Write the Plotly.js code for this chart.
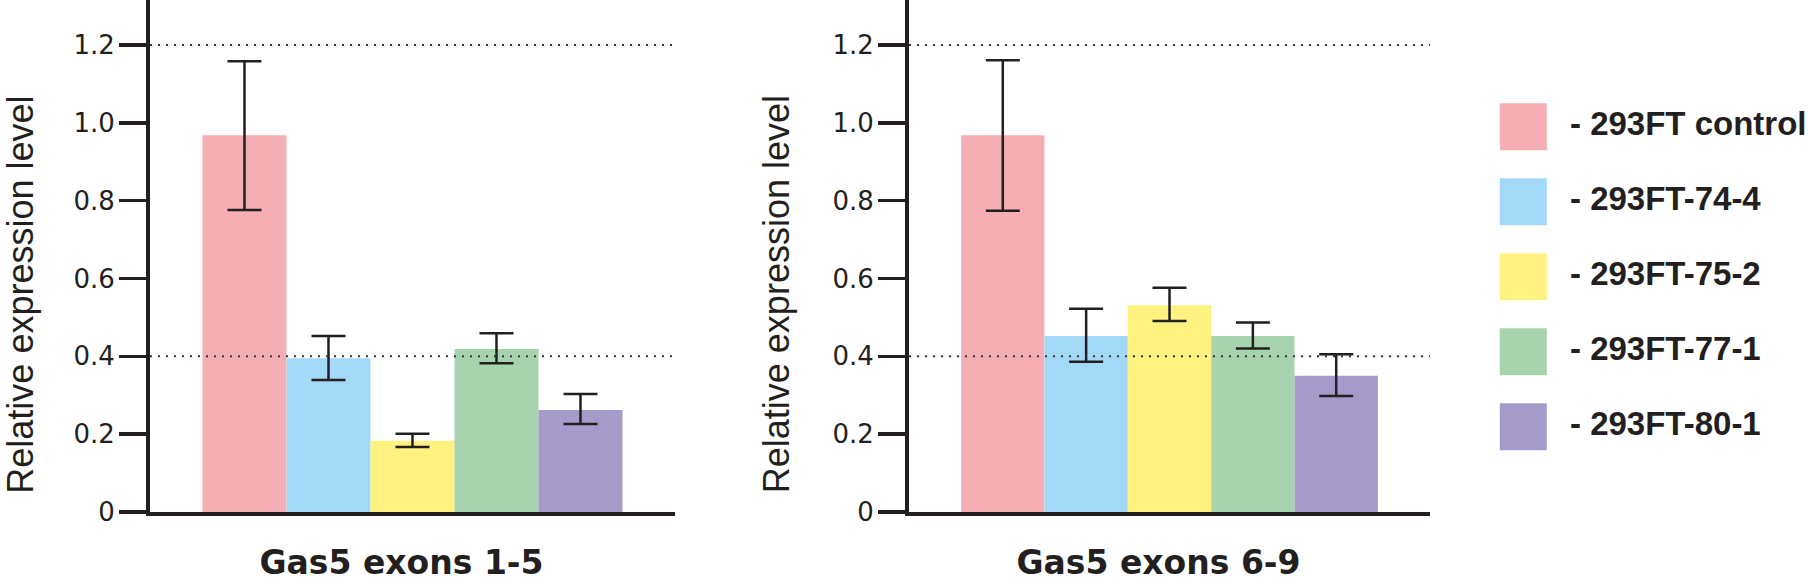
<!DOCTYPE html>
<html>
<head>
<meta charset="utf-8">
<script src="https://cdn.plot.ly/plotly-3.0.1.min.js"></script>
<style>
  html, body { margin: 0; padding: 0; background: #fff; }
  #graph { width: 1808px; height: 587px; }
</style>
</head>
<body>
<div id="graph"></div>
<script>
// samples and colours
var samples = ['293FT control', '293FT-74-4', '293FT-75-2', '293FT-77-1', '293FT-80-1'];
var colors = ['#f5afb4', '#a3d9f6', '#fff280', '#a7d3ae', '#a59bcb'];
var regions = ['Gas5 exons 1-5', 'Gas5 exons 6-9'];
var yTitle = 'Relative expression level';

// relative expression, with upper / lower ends of the error bars
var exons15 = [0.968, 0.395, 0.183, 0.419, 0.262];
var exons15Hi = [1.158, 0.452, 0.201, 0.459, 0.303];
var exons15Lo = [0.776, 0.339, 0.167, 0.382, 0.226];

var exons69 = [0.968, 0.452, 0.531, 0.452, 0.350];
var exons69Hi = [1.161, 0.522, 0.576, 0.487, 0.405];
var exons69Lo = [0.774, 0.386, 0.491, 0.420, 0.298];

var refLines = [0.4, 1.2];
var yTicks = [0, 0.2, 0.4, 0.6, 0.8, 1.0, 1.2];
var yTickText = ['0', '0.2', '0.4', '0.6', '0.8', '1.0', '1.2'];

var ink = '#231f20';
var fam = 'Arial, "Liberation Sans", Helvetica, sans-serif';
// the reference's axis texts are wide, DejaVu Sans fits them best
var wideFam = '"DejaVu Sans", Arial, sans-serif';
var graph = document.getElementById('graph');

function panelTraces(region, vals, hi, lo, xa, ya) {
  return samples.map(function (s, i) {
    return {
      type: 'bar',
      x: [region],
      y: [vals[i]],
      name: s,
      xaxis: xa,
      yaxis: ya,
      marker: { color: colors[i], line: { width: 0 } },
      error_y: {
        type: 'data',
        symmetric: false,
        array: [hi[i] - vals[i]],
        arrayminus: [vals[i] - lo[i]],
        color: ink,
        thickness: 2.5,
        width: 17
      },
      showlegend: false,
      hoverinfo: 'skip'
    };
  });
}

var idx = samples.map(function (s, i) { return i; });

// legend drawn as a small hidden subplot so the swatches can be large
var legendSwatches = {
  type: 'scatter',
  mode: 'markers',
  x: samples.map(function () { return 0; }),
  y: idx,
  xaxis: 'x3',
  yaxis: 'y3',
  marker: { symbol: 'square', size: 47, color: colors, line: { width: 0 } },
  showlegend: false,
  hoverinfo: 'skip'
};
var legendLabels = {
  type: 'scatter',
  mode: 'text',
  x: samples.map(function () { return 0.607; }),
  y: idx,
  xaxis: 'x3',
  yaxis: 'y3',
  text: samples.map(function (s) { return '- ' + s; }),
  textposition: 'middle right',
  textfont: { family: fam, size: 33, color: ink, weight: 'bold' },
  showlegend: false,
  hoverinfo: 'skip'
};

var data = []
  .concat(panelTraces(regions[0], exons15, exons15Hi, exons15Lo, 'x', 'y'))
  .concat(panelTraces(regions[1], exons69, exons69Hi, exons69Lo, 'x2', 'y2'))
  .concat([legendSwatches, legendLabels]);

function yAxis(anchor) {
  return {
    anchor: anchor,
    domain: [0.1278, 1],
    range: [0, 1.3155],
    tickvals: yTicks,
    ticktext: yTickText,
    ticks: 'outside',
    ticklen: 27,
    tickwidth: 3.5,
    tickcolor: ink,
    ticklabelstandoff: -1,
    showline: true,
    linewidth: 4,
    linecolor: ink,
    showgrid: false,
    zeroline: false,
    tickfont: { family: wideFam, size: 26, color: ink },
    fixedrange: true
  };
}

function xAxis(anchor, dom) {
  return {
    anchor: anchor,
    domain: dom,
    type: 'category',
    range: [-0.5, 0.5],
    showline: true,
    linewidth: 4,
    linecolor: ink,
    ticks: '',
    showgrid: false,
    zeroline: false,
    tickfont: { family: wideFam, size: 33, color: ink, weight: 'bold' },
    ticklabelstandoff: 18,
    ticklabelshift: -11,
    fixedrange: true
  };
}

var shapes = [];
[['x', 'y'], ['x2', 'y2']].forEach(function (p) {
  refLines.forEach(function (v) {
    shapes.push({
      type: 'line',
      xref: p[0] + ' domain',
      yref: p[1],
      x0: 0, x1: 1, y0: v, y1: v,
      line: { color: '#333', width: 2, dash: '2px,6px' },
      layer: 'above'
    });
  });
});

// y titles sit a little below the axis middle in the reference
var annotations = [0.01162, 0.4295].map(function (xp) {
  return {
    xref: 'paper', yref: 'paper',
    x: xp, y: 0.498,
    xanchor: 'center', yanchor: 'middle',
    text: yTitle,
    textangle: -90,
    showarrow: false,
    font: { family: fam, size: 36, color: ink }
  };
});

var layout = {
  width: 1808,
  height: 587,
  margin: { l: 0, r: 0, t: 0, b: 0, pad: 0 },
  paper_bgcolor: '#fff',
  plot_bgcolor: 'rgba(0,0,0,0)',
  barmode: 'group',
  bargap: 0.2,
  bargroupgap: 0,
  showlegend: false,
  font: { family: fam, color: ink },
  xaxis: xAxis('y', [0.08296, 0.37334]),
  yaxis: yAxis('x'),
  xaxis2: xAxis('y2', [0.50277, 0.79093]),
  yaxis2: yAxis('x2'),
  xaxis3: { anchor: 'y3', domain: [0.8, 1], range: [-1, 3.702], visible: false, fixedrange: true },
  yaxis3: { anchor: 'x3', domain: [0, 1], range: [6.137, -1.689], visible: false, fixedrange: true },
  shapes: shapes,
  annotations: annotations
};

Plotly.newPlot(graph, data, layout, { displayModeBar: false, staticPlot: true });
</script>
</body>
</html>
